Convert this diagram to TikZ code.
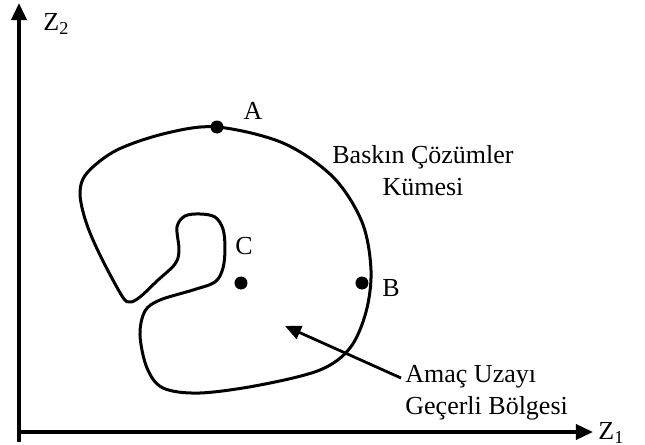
\documentclass[tikz,border=0pt]{standalone}
\usepackage{fontspec}
\setmainfont{Liberation Serif}
\usetikzlibrary{arrows.meta}

\begin{document}
\begin{tikzpicture}[
    x=0.5pt, y=-0.5pt,
    axis/.style={line width=1.8pt, -{Triangle[length=8.5pt, width=7.5pt]}},
    region/.style={line width=1.5pt, line join=round},
    dot/.style={circle, fill=black, inner sep=0pt, minimum size=6.5pt},
    txt/.style={font=\fontsize{13}{16}\selectfont, inner sep=0pt},
    arrow/.style={line width=1.4pt, -{Triangle[length=8pt, width=7pt]}},
]

    \useasboundingbox (0,0) rectangle (645,445);

    \coordinate (origin) at (19,432);
    \coordinate (ybottom) at (19,442);
    \coordinate (ytop) at (19,3);
    \coordinate (xend) at (593,432);

    \draw [axis] (ybottom) -- (ytop);
    \draw [axis] (origin) -- (xend);

    \node (z2) [txt, anchor=west] at (43,24) {Z\textsubscript{2}};
    \node (z1) [txt, anchor=west] at (598,433) {Z\textsubscript{1}};

    \draw [region] plot [smooth cycle, tension=0.55] coordinates {
      (217,127) (283,143) (333,177) (362,222) (371,270) (366,312)
      (350,348) (320,370) (260,385) (200,393) (163,388) (147,368)
      (140,335) (145,311) (160,300) (193,290) (215,282) (223,268)
      (225,248) (223,229) (215,217) (200,214) (185,216) (177,227)
      (179,250) (175,264) (157,281) (140,297) (130,302) (122,296)
      (100,255) (86,222) (80,193) (87,173) (117,150) (167,133)};

    \node (a) [dot] at (217,127) {};
    \node (b) [dot] at (362,283) {};
    \node (c) [dot] at (241,283) {};

    \node (a_label) [txt] at (253,111) {A};
    \node (b_label) [txt] at (391,288) {B};
    \node (c_label) [txt] at (244,246) {C};

    \node (dominant) [txt, align=center] at (423,171) {Baskın Çözümler\\Kümesi};
    \node (feasible) [txt, align=left, anchor=west] at (405,393) {Amaç Uzayı\\Geçerli Bölgesi};

    \coordinate (tail) at (401,378);
    \coordinate (tip) at (285,326);
    \draw [arrow] (tail) -- (tip);

\end{tikzpicture}
\end{document}
